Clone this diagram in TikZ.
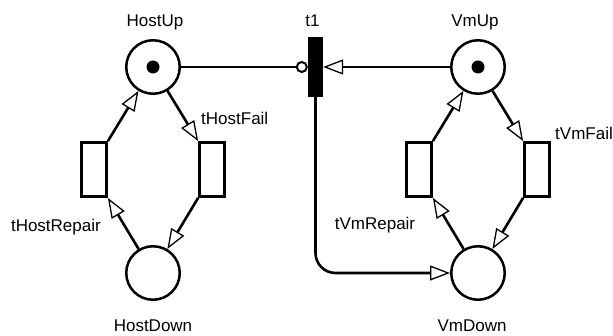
\documentclass[tikz,border=0pt]{standalone}
\usepackage{fontspec}
\setmainfont{Liberation Sans}
\usetikzlibrary{arrows.meta}
\begin{document}
\begin{tikzpicture}[x=1pt,y=-1pt,
 place/.style={circle,draw,line width=2.5pt,minimum size=53.5pt,inner sep=0pt},
 trans/.style={rectangle,draw,line width=2.8pt,minimum width=25pt,minimum height=54pt,inner sep=0pt},
 bar/.style={rectangle,fill=black,minimum width=15pt,minimum height=60pt,inner sep=0pt},
 tok/.style={circle,fill=black,minimum size=13pt,inner sep=0pt},
 arc/.style={line width=2.6pt,-{Triangle[length=20pt,width=15pt,fill=white,line width=1.3pt]}},
 inh/.style={line width=2.6pt,-{Circle[length=12pt,width=12pt,fill=white,line width=2pt]}},
 lbl/.style={font=\fontsize{17}{20}\selectfont,inner sep=0pt}]
\useasboundingbox (0,0) rectangle (613,336);
\node[place] (HostUp) at (153,67) {};
\node[tok] (hu) at (HostUp) {};
\node[place] (HostDown) at (153,273) {};
\node[trans] (tHostRepair) at (94,169.5) {};
\node[trans] (tHostFail) at (212,169.5) {};
\node[bar] (t1) at (315.5,67) {};
\node[place] (VmUp) at (478,67) {};
\node[tok] (vu) at (VmUp) {};
\node[place] (VmDown) at (478,273) {};
\node[trans] (tVmRepair) at (419,169.5) {};
\node[trans] (tVmFail) at (537,169.5) {};
\node[lbl,anchor=base] (lHostUp) at (155,27) {HostUp};
\node[lbl,anchor=base] (lt1) at (312.5,27) {t1};
\node[lbl,anchor=base] (lVmUp) at (475,27) {VmUp};
\node[lbl,anchor=base west] (ltHostFail) at (201,125) {tHostFail};
\node[lbl,anchor=base east] (ltHostRepair) at (101,232) {tHostRepair};
\node[lbl,anchor=base] (lHostDown) at (153,332) {HostDown};
\node[lbl,anchor=base west] (ltVmFail) at (555,140) {tVmFail};
\node[lbl,anchor=base] (ltVmRepair) at (375,230) {tVmRepair};
\node[lbl,anchor=base] (lVmDown) at (472,332) {VmDown};
\draw[arc] (HostUp) -- (tHostFail.north west);
\draw[arc] (tHostFail.south west) -- (HostDown);
\draw[arc] (HostDown) -- (tHostRepair.south east);
\draw[arc] (tHostRepair.north east) -- (HostUp);
\draw[arc] (VmUp) -- (tVmFail.north west);
\draw[arc] (tVmFail.south west) -- (VmDown);
\draw[arc] (VmDown) -- (tVmRepair.south east);
\draw[arc] (tVmRepair.north east) -- (VmUp);
\draw[inh] (HostUp) -- (t1);
\draw[arc] (VmUp) -- (t1);
\draw[arc,rounded corners=20pt] (t1.south) |- (VmDown);
\end{tikzpicture}
\end{document}
